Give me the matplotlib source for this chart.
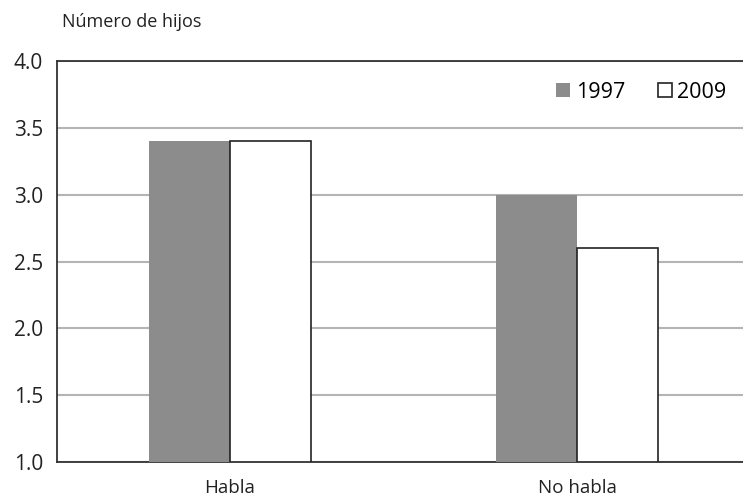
import matplotlib
matplotlib.use("Agg")
import matplotlib.pyplot as plt
import numpy as np

categories = ["Habla", "No habla"]
years = ["1997", "2009"]
values_1997 = [3.4, 3.0]
values_2009 = [3.4, 2.6]

plt.rcParams['font.family'] = ['Open Sans', 'DejaVu Sans']

fig = plt.figure(figsize=(7.43, 4.96), dpi=100)
ax = fig.add_axes([57 / 743, 34 / 496, 686 / 743, 401 / 496])

x = np.arange(len(categories))
w = 0.233
base = 1.0
ax.bar(x - w / 2, np.array(values_1997) - base, w, bottom=base,
       color="#8c8c8d", edgecolor="none", label=years[0], zorder=3)
ax.bar(x + w / 2, np.array(values_2009) - base, w, bottom=base,
       color="white", edgecolor="#222222", linewidth=1.2, label=years[1], zorder=3)

ax.set_ylim(1.0, 4.0)
ax.set_xlim(-0.4986, 1.478)
ax.set_yticks([1.0, 1.5, 2.0, 2.5, 3.0, 3.5, 4.0])
ax.set_yticklabels(["1.0", "1.5", "2.0", "2.5", "3.0", "3.5", "4.0"])
ax.set_xticks(x)
ax.set_xticklabels(categories)
ax.tick_params(axis="y", length=0, labelsize=15, pad=10, colors="#222222")
ax.tick_params(axis="x", length=0, labelsize=13.5, pad=12, colors="#222222")
ax.yaxis.grid(True, color="#b4b4b4", linewidth=1.5, zorder=0)
ax.set_axisbelow(True)

for s in ["left", "top", "bottom"]:
    ax.spines[s].set_color("#333333")
    ax.spines[s].set_linewidth(1.3)
ax.spines["right"].set_visible(False)

# legend: small squares, two columns, top right inside the axes
ax.legend(ncol=2, loc="upper right", bbox_to_anchor=(0.988, 0.97), borderaxespad=0,
          frameon=False, fontsize=15.5, handlelength=0.65, handleheight=0.65,
          handletextpad=0.25, columnspacing=1.5)

fig.text(62 / 743, 1 - 22 / 496, "Número de hijos", fontsize=13, va="center",
         ha="left", color="#222222")

fig.savefig("out.png", dpi=100)
